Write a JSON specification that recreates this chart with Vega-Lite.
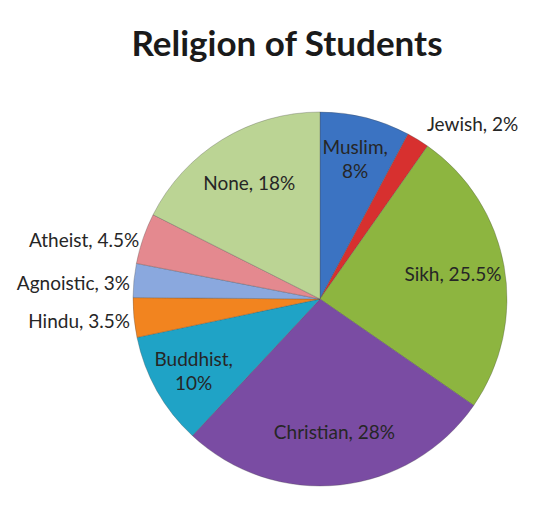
{
  "$schema": "https://vega.github.io/schema/vega-lite/v6.json",
  "autosize": "none",
  "width": 374,
  "height": 374,
  "padding": {"left": 133, "top": 112, "right": 32, "bottom": 20},
  "background": "white",
  "title": {
    "text": "Religion of Students",
    "font": "Lato",
    "fontSize": 35,
    "fontWeight": "bold",
    "color": "#1a1a1a",
    "anchor": "middle",
    "baseline": "alphabetic",
    "offset": 54,
    "dx": -33,
    "dy": 53
  },
  "config": {"view": {"stroke": null}},
  "data": {
    "values": [
      {"religion": "Muslim", "percent": 8, "order": 1, "label": "Muslim,\n8%"},
      {"religion": "Jewish", "percent": 2, "order": 2, "label": "Jewish, 2%"},
      {"religion": "Sikh", "percent": 25.5, "order": 3, "label": "Sikh, 25.5%"},
      {"religion": "Christian", "percent": 28, "order": 4, "label": "Christian, 28%"},
      {"religion": "Buddhist", "percent": 10, "order": 5, "label": "Buddhist,\n10%"},
      {"religion": "Hindu", "percent": 3.5, "order": 6, "label": "Hindu, 3.5%"},
      {"religion": "Agnoistic", "percent": 3, "order": 7, "label": "Agnoistic, 3%"},
      {"religion": "Atheist", "percent": 4.5, "order": 8, "label": "Atheist, 4.5%"},
      {"religion": "None", "percent": 18, "order": 9, "label": "None, 18%"}
    ]
  },
  "encoding": {
    "theta": {"field": "percent", "type": "quantitative", "stack": true},
    "order": {"field": "order", "type": "quantitative"}
  },
  "layer": [
    {
      "mark": {"type": "arc", "outerRadius": 187, "stroke": "#4a4a4a", "strokeOpacity": 0.3, "strokeWidth": 1},
      "encoding": {
        "color": {
          "field": "religion",
          "type": "nominal",
          "legend": null,
          "scale": {
            "domain": ["Muslim", "Jewish", "Sikh", "Christian", "Buddhist", "Hindu", "Agnoistic", "Atheist", "None"],
            "range": ["#3B73C2", "#D7302F", "#8DB540", "#7A4CA3", "#1FA3C6", "#F2841F", "#8AA8DE", "#E4898F", "#BBD494"]
          }
        }
      }
    },
    {
      "mark": {"type": "text", "radius": 135, "font": "Lato", "fontSize": 19, "color": "#262626", "align": "center", "baseline": "middle"},
      "encoding": {
        "text": {
          "condition": {"test": "indexof(['Sikh','Christian','None'], datum.religion) >= 0", "field": "label"},
          "value": ""
        }
      }
    },
    {
      "mark": {"type": "text", "radius": 145, "dy": -10, "font": "Lato", "fontSize": 19, "color": "#262626", "align": "center", "baseline": "middle", "lineBreak": "\n", "lineHeight": 24},
      "encoding": {
        "text": {
          "condition": {"test": "indexof(['Muslim','Buddhist'], datum.religion) >= 0", "field": "label"},
          "value": ""
        }
      }
    },
    {
      "mark": {"type": "text", "radius": 204, "font": "Lato", "fontSize": 19, "color": "#262626", "align": "left", "baseline": "middle"},
      "encoding": {
        "text": {
          "condition": {"test": "datum.religion == 'Jewish'", "field": "label"},
          "value": ""
        }
      }
    },
    {
      "mark": {"type": "text", "radius": 191, "dy": 4, "font": "Lato", "fontSize": 19, "color": "#262626", "align": "right", "baseline": "middle"},
      "encoding": {
        "text": {
          "condition": {"test": "indexof(['Hindu','Agnoistic','Atheist'], datum.religion) >= 0", "field": "label"},
          "value": ""
        }
      }
    }
  ]
}
